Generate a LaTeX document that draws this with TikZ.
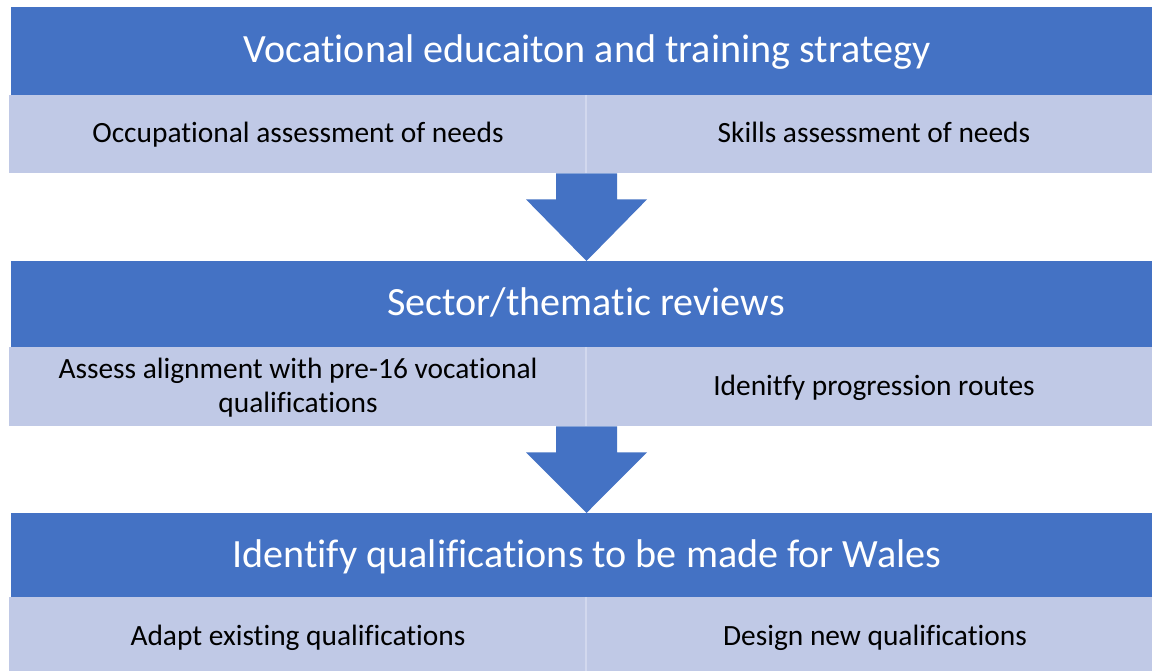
\documentclass[tikz,border=0pt]{standalone}
\usepackage{fontspec}
\setmainfont{Carlito}[Ligatures={NoCommon}]
\usetikzlibrary{calc}
\definecolor{bandblue}{HTML}{4472C4}
\definecolor{celllight}{HTML}{C0C9E6}
\definecolor{celldivide}{HTML}{D2D8EE}
\tikzset{
  band/.style={fill=bandblue, draw=none, inner sep=0pt, anchor=north west,
    minimum width=1141pt, minimum height=88pt},
  cell/.style={fill=celllight, draw=none, inner sep=0pt, anchor=north west,
    minimum width=577pt, minimum height=78pt},
  bandtext/.style={text=white, inner sep=0pt, anchor=base,
    font=\fontsize{40.1}{48}\selectfont},
  celltext/.style={text=black, inner sep=0pt, anchor=base, align=center,
    font=\fontsize{29.4}{34}\selectfont},
  divider/.style={draw=celldivide, line width=2pt},
  flowarrow/.style={fill=bandblue, draw=none}
}
\begin{document}
\begin{tikzpicture}[x=1pt, y=-1pt]
\useasboundingbox[fill=white] (0,0) rectangle (1152,671);

% stage 1
\node[band] (s1) at (11,7) {};
\node[cell] (s1a) at (9,95) {};
\node[cell, minimum width=566pt] (s1b) at (586,95) {};
\draw[divider] (s1b.north west) -- (s1b.south west);
\node[bandtext] (s1t) at (587,63) {Vocational educaiton and training strategy};
\node[celltext] (s1at) at (298,143) {Occupational assessment of needs};
\node[celltext] (s1bt) at (874,143) {Skills assessment of needs};

% stage 2
\node[band] (s2) at (11,261) {};
\node[cell, minimum height=79pt] (s2a) at (9,347) {};
\node[cell, minimum width=566pt, minimum height=79pt] (s2b) at (586,347) {};
\draw[divider] (s2b.north west) -- (s2b.south west);
\node[bandtext] (s2t) at (586,316) {Sector/thematic reviews};
% base anchor of a two-line node sits on its last line
\node[celltext] (s2at) at (298,412) {Assess alignment with pre-16 vocational\\qualifications};
\node[celltext] (s2bt) at (874,395) {Idenitfy progression routes};

% stage 3
\node[band, minimum height=84pt] (s3) at (11,513) {};
\node[cell, minimum height=74pt] (s3a) at (9,597) {};
\node[cell, minimum width=566pt, minimum height=74pt] (s3b) at (586,597) {};
\draw[divider] (s3b.north west) -- (s3b.south west);
\node[bandtext] (s3t) at (587,567) {Identify qualifications to be made for Wales};
\node[celltext] (s3at) at (298,645) {Adapt existing qualifications};
\node[celltext] (s3bt) at (875,645) {Design new qualifications};

% block arrows between stages
\coordinate (a1top) at ($(s1b.south west)+(0.5,0)$);
\coordinate (a1tip) at ($(s2.north west)!(a1top)!(s2.north east)$);
\fill[flowarrow] ($(a1top)+(-30.5,0)$) -- ($(a1top)+(30.5,0)$) -- ($(a1top)+(30.5,26)$)
  -- ($(a1top)+(60.5,26)$) -- (a1tip) -- ($(a1top)+(-60.5,26)$) -- ($(a1top)+(-30.5,26)$) -- cycle;
\coordinate (a2top) at ($(s2b.south west)+(0.5,0)$);
\coordinate (a2tip) at ($(s3.north west)!(a2top)!(s3.north east)$);
\fill[flowarrow] ($(a2top)+(-30.5,0)$) -- ($(a2top)+(30.5,0)$) -- ($(a2top)+(30.5,26)$)
  -- ($(a2top)+(60.5,26)$) -- (a2tip) -- ($(a2top)+(-60.5,26)$) -- ($(a2top)+(-30.5,26)$) -- cycle;
\end{tikzpicture}
\end{document}
